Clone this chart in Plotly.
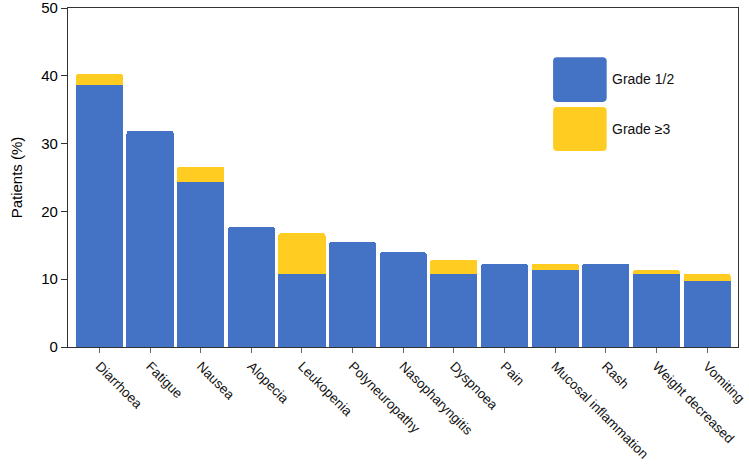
import plotly.graph_objects as go

# adverse events, % of patients
events = ["Diarrhoea", "Fatigue", "Nausea", "Alopecia", "Leukopenia", "Polyneuropathy",
          "Nasopharyngitis", "Dyspnoea", "Pain", "Mucosal inflammation", "Rash",
          "Weight decreased", "Vomiting"]
grade_1_2 = [38.6, 31.9, 24.4, 17.7, 10.8, 15.5, 14.0, 10.7, 12.3, 11.4, 12.3, 10.7, 9.8]
grade_3plus = [1.7, 0.0, 2.2, 0.0, 6.0, 0.0, 0.0, 2.2, 0.0, 0.9, 0.0, 0.7, 1.0]

blue = "#4472C4"
yellow = "#FFCD22"
font = "Liberation Sans, Arial, sans-serif"


def rounded_box(x0, x1, y0, y1, rx=0.006, ry=0.012):
    # rectangle path in paper units with softened corners
    return (f"M{x0 + rx},{y0} L{x1 - rx},{y0} Q{x1},{y0} {x1},{y0 + ry} "
            f"L{x1},{y1 - ry} Q{x1},{y1} {x1 - rx},{y1} L{x0 + rx},{y1} "
            f"Q{x0},{y1} {x0},{y1 - ry} L{x0},{y0 + ry} Q{x0},{y0} {x0 + rx},{y0} Z")


fig = go.Figure()
fig.add_trace(go.Bar(x=events, y=grade_1_2, name="Grade 1/2",
                     marker=dict(color=blue, line=dict(width=0), cornerradius=3)))
fig.add_trace(go.Bar(x=events, y=grade_3plus, name="Grade ≥3",
                     marker=dict(color=yellow, line=dict(width=0), cornerradius=3)))

# hand-drawn legend with big swatches, as in the original
fig.add_shape(type="path", xref="paper", yref="paper",
              path=rounded_box(0.724, 0.804, 0.723, 0.855),
              fillcolor=blue, line=dict(width=0), layer="above")
fig.add_shape(type="path", xref="paper", yref="paper",
              path=rounded_box(0.724, 0.804, 0.578, 0.708),
              fillcolor=yellow, line=dict(width=0), layer="above")
fig.add_annotation(xref="paper", yref="paper", x=0.809, y=0.79, text="Grade 1/2",
                   showarrow=False, xanchor="left", yanchor="middle",
                   font=dict(size=14, color="#111"))
fig.add_annotation(xref="paper", yref="paper", x=0.809, y=0.643, text="Grade ≥3",
                   showarrow=False, xanchor="left", yanchor="middle",
                   font=dict(size=14, color="#111"))

fig.update_layout(
    width=749, height=464,
    margin=dict(l=68, r=11, t=8, b=117),
    barmode="stack", bargap=0.07,
    showlegend=False,
    plot_bgcolor="white", paper_bgcolor="white",
    font=dict(family=font, color="#111"),
)
fig.update_xaxes(range=[-0.62, 12.61], tickangle=45, tickfont=dict(size=13.5, color="#111"),
                 automargin=False, ticklabeloverflow="allow",
                 showline=True, linecolor="#333", linewidth=1.2, mirror=True,
                 ticks="outside", ticklen=5, tickcolor="#666", showgrid=False)
fig.update_yaxes(range=[0, 50], dtick=10, tickfont=dict(size=15, color="#000"),
                 automargin=False, ticklabeloverflow="allow",
                 title=dict(text="Patients (%)", font=dict(size=15, color="#000"), standoff=14),
                 showline=True, linecolor="#333", linewidth=1.2, mirror=True,
                 ticks="outside", ticklen=6, tickcolor="#333", showgrid=False, zeroline=False)

# drop the default page margin so the figure sits at the window corner
fig.write_html("out.html", config={"displayModeBar": False},
               post_script="document.body.style.margin='0';")
